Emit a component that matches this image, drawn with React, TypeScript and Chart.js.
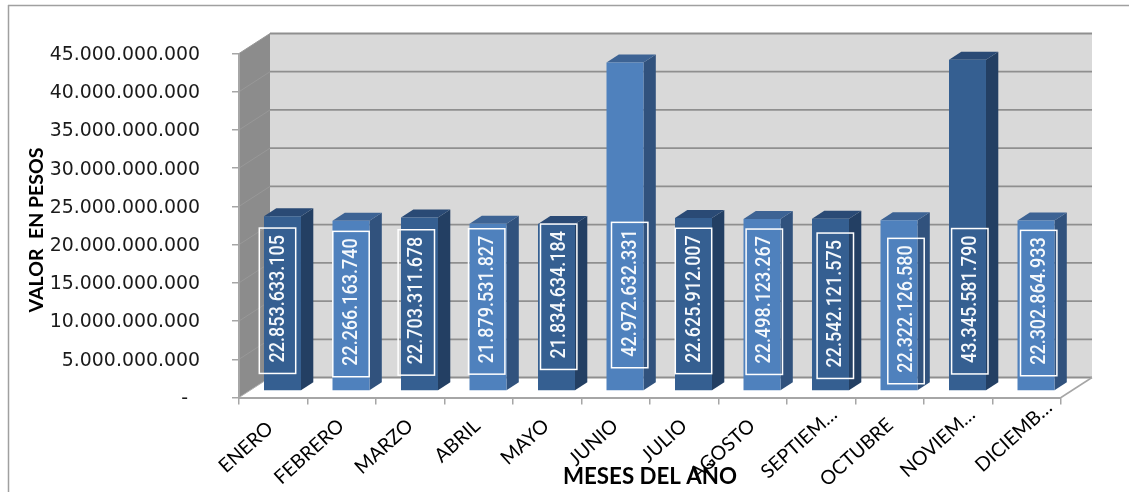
import React, { useEffect, useRef } from "react";
import { Chart, registerables } from "chart.js";

Chart.register(...registerables);

const categories = ["ENERO", "FEBRERO", "MARZO", "ABRIL", "MAYO", "JUNIO", "JULIO", "AGOSTO", "SEPTIEM…", "OCTUBRE", "NOVIEM…", "DICIEMB…"];
const valores = [22853633105, 22266163740, 22703311678, 21879531827, 21834634184, 42972632331, 22625912007, 22498123267, 22542121575, 22322126580, 43345581790, 22302864933];
const yTicks = [0, 5e9, 10e9, 15e9, 20e9, 25e9, 30e9, 35e9, 40e9, 45e9];

// Hand-placed data-label boxes, relative to each bar (centre x, baseline y)
const labelShiftX = [-5, 0, -3.2, -1.3, 2.2, 4.7, 0, 2.3, 4.8, 7, 2.3, 2.7];
const labelShiftY = [-90, -86.7, -88.3, -89.3, -94, -95.7, -89.8, -89, -85, -79.7, -89.5, -87.7];
// Where each rotated category label ends, relative to its tick centre on the axis
const catShiftX = [-3, -0.5, 0, -1.5, -1, -0.5, 0, -0.5, 13, 0.5, 14, 22.5];
const catShiftY = [28, 25.5, 25.5, 25.5, 25.5, 25.5, 25.5, 25.5, 14, 24.5, 14, 7];

const FRONT = ["#355f91", "#4f81bd"];
const TOP = ["#2a4a75", "#3d6394"];
const SIDE = ["#233f63", "#31527d"];
const shade = (pal: string[]) => categories.map((_, i) => pal[i % 2]);

const WALL_DX = 31;
const WALL_DY = -20;
const BAR_DX = 9.25;
const BAR_DY = -6.5;
const FACE_DX = 12.3;
const FACE_DY = -8;
const CAT_ANGLE = (42 * Math.PI) / 180;

const fmt = (v: number) => Math.round(v).toString().replace(/\B(?=(\d{3})+(?!\d))/g, ".");

const poly = (ctx: CanvasRenderingContext2D, pts: number[][], fill: string) => {
  ctx.beginPath();
  pts.forEach(([x, y], i) => (i ? ctx.lineTo(x, y) : ctx.moveTo(x, y)));
  ctx.closePath();
  ctx.fillStyle = fill;
  ctx.fill();
};

const line = (ctx: CanvasRenderingContext2D, x1: number, y1: number, x2: number, y2: number, color: string, w: number) => {
  ctx.beginPath();
  ctx.moveTo(x1, y1);
  ctx.lineTo(x2, y2);
  ctx.strokeStyle = color;
  ctx.lineWidth = w;
  ctx.stroke();
};

const scene = {
  id: "scene",
  beforeDraw(chart: any) {
    const { ctx, chartArea: a, scales } = chart;
    const { left: l, right: r, top: t, bottom: b } = a;
    ctx.save();
    ctx.fillStyle = "#ffffff";
    ctx.fillRect(0, 0, chart.width, chart.height);
    line(ctx, 8, 5.5, chart.width, 5.5, "#a0a0a0", 1.5);
    line(ctx, 8.5, 5, 8.5, chart.height, "#a0a0a0", 1.5);
    poly(ctx, [[l + WALL_DX, t + WALL_DY], [r + WALL_DX, t + WALL_DY], [r + WALL_DX, b + WALL_DY], [l + WALL_DX, b + WALL_DY]], "#d9d9d9");
    poly(ctx, [[l, t], [l + WALL_DX, t + WALL_DY], [l + WALL_DX, b + WALL_DY], [l, b]], "#8c8c8c");
    for (const tick of scales.y.ticks) {
      const y = scales.y.getPixelForValue(tick.value);
      line(ctx, l, y, l + WALL_DX, y + WALL_DY, tick.value === 0 ? "#b0b0b0" : "#989898", 1);
      line(ctx, l + WALL_DX, y + WALL_DY, r + WALL_DX, y + WALL_DY, "#8f8f8f", 1.8);
    }
    line(ctx, r, b, r + WALL_DX, b + WALL_DY, "#a6a6a6", 1.5);
    ctx.restore();
  },
  beforeDatasetsDraw(chart: any) {
    const { ctx } = chart;
    ctx.save();
    ctx.translate(BAR_DX, BAR_DY);
    chart.getDatasetMeta(0).data.forEach((el: any, i: number) => {
      const x1 = el.x - el.width / 2;
      const x2 = el.x + el.width / 2;
      poly(ctx, [[x2, el.y], [x2 + FACE_DX, el.y + FACE_DY], [x2 + FACE_DX, el.base + FACE_DY], [x2, el.base]], SIDE[i % 2]);
      poly(ctx, [[x1, el.y], [x1 + FACE_DX, el.y + FACE_DY], [x2 + FACE_DX, el.y + FACE_DY], [x2, el.y]], TOP[i % 2]);
    });
  },
  afterDatasetsDraw(chart: any) {
    const { ctx, scales, chartArea } = chart;
    ctx.restore();
    ctx.save();
    chart.getDatasetMeta(0).data.forEach((el: any, i: number) => {
      const cx = el.x + BAR_DX + labelShiftX[i];
      const cy = el.base - 6 + labelShiftY[i];
      ctx.strokeStyle = "#ffffff";
      ctx.lineWidth = 1.5;
      ctx.strokeRect(cx - 18.2, cy - 72.7, 36.4, 145.4);
      ctx.save();
      ctx.translate(cx + 1, cy - 2);
      ctx.rotate(-Math.PI / 2);
      ctx.scale(0.9, 1);
      ctx.fillStyle = "#f4f8fc";
      ctx.font = "500 20px Roboto";
      ctx.textAlign = "center";
      ctx.textBaseline = "middle";
      ctx.fillText(fmt(valores[i]), 0, 0);
      ctx.restore();
    });
    categories.forEach((name, i) => {
      ctx.save();
      ctx.translate(scales.x.getPixelForValue(i) + catShiftX[i], chartArea.bottom + catShiftY[i]);
      ctx.rotate(-CAT_ANGLE);
      ctx.fillStyle = "#000000";
      ctx.font = "19.5px Lato";
      ctx.textAlign = "right";
      ctx.textBaseline = "middle";
      ctx.fillText(name, 0, 0);
      ctx.restore();
    });
    ctx.save();
    ctx.translate(37, 230);
    ctx.rotate(-Math.PI / 2);
    ctx.fillStyle = "#000000";
    ctx.font = "bold 19.5px Lato";
    ctx.textAlign = "center";
    ctx.textBaseline = "middle";
    ctx.fillText("VALOR  EN PESOS", 0, 0);
    ctx.restore();
    ctx.restore();
  },
};

export default function App() {
  const ref = useRef<HTMLCanvasElement>(null);
  useEffect(() => {
    const chart = new Chart(ref.current!, {
      type: "bar",
      data: {
        labels: categories,
        datasets: [
          {
            data: valores,
            backgroundColor: shade(FRONT),
            barPercentage: 0.54,
            categoryPercentage: 1,
            clip: false,
          } as any,
        ],
      },
      options: {
        animation: false,
        responsive: false,
        layout: { autoPadding: false, padding: { left: 0, top: 53.5, right: 68, bottom: 0 } },
        plugins: { legend: { display: false }, tooltip: { enabled: false }, title: { display: false } },
        scales: {
          x: {
            afterFit: (s: any) => {
              s.height = 94.5;
            },
            border: { display: true, color: "#a6a6a6", width: 2 },
            grid: { drawOnChartArea: false, drawTicks: true, tickLength: 7, color: "#a6a6a6", lineWidth: 1.5 },
            ticks: { display: false },
            title: {
              display: true,
              text: "MESES DEL AÑO",
              color: "#000000",
              font: { family: "Lato", size: 22.3, weight: "bold" },
              padding: { top: 0, bottom: 2 },
            },
          },
          y: {
            min: 0,
            max: 45e9,
            afterFit: (s: any) => {
              s.width = 239;
            },
            afterBuildTicks: (s: any) => {
              s.ticks = yTicks.map((value) => ({ value }));
            },
            border: { display: true, color: "#a6a6a6", width: 2 },
            grid: { drawOnChartArea: false, drawTicks: true, tickLength: 7, color: "#a6a6a6", lineWidth: 1.5 },
            ticks: {
              padding: 32,
              color: "#1a1a1a",
              font: { family: "DejaVu Sans", size: 18.9, lineHeight: "3px" },
              callback: (v: any) => ["", Number(v) === 0 ? "-\u00a0\u00a0" : fmt(Number(v))],
            },
          },
        },
      },
      plugins: [scene],
    } as any);
    return () => chart.destroy();
  }, []);
  return (
    <div style={{ position: "absolute", left: 0, top: 0, width: 1129, height: 492, overflow: "hidden" }}>
      <canvas ref={ref} width={1129} height={492} style={{ display: "block" }} />
    </div>
  );
}
